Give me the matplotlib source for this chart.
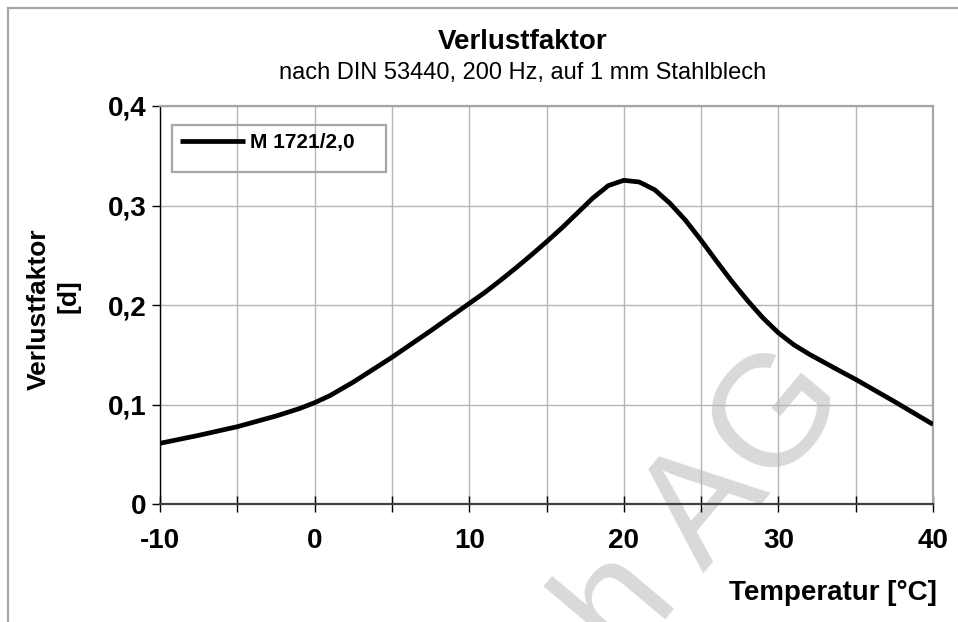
import matplotlib
matplotlib.use("Agg")
import matplotlib.pyplot as plt
from matplotlib.lines import Line2D
from matplotlib.patches import Rectangle
from matplotlib.ticker import MultipleLocator, FuncFormatter

# ---- data ----
temperature = [-10, -7.5, -5, -2.5, -1, 0, 1, 2.5, 5, 7.5, 9, 10, 11, 12, 13, 14,
               15, 16, 17, 18, 19, 20, 21, 22, 23, 24, 25, 26, 27, 28, 29, 30,
               31, 32, 33, 34, 35, 37.5, 40]
loss_factor = [0.061, 0.069, 0.0777, 0.0884, 0.0958, 0.1018, 0.1090, 0.1225, 0.1474,
               0.1740, 0.1905, 0.2015, 0.2125, 0.2245, 0.2370, 0.2500,
               0.2635, 0.2775, 0.2925, 0.3075, 0.3200, 0.3253, 0.3236, 0.3158,
               0.3020, 0.2850, 0.2650, 0.2440, 0.2235, 0.2045, 0.1870, 0.1720,
               0.1600, 0.1505, 0.1420, 0.1335, 0.1252, 0.1030, 0.0800]
series_name = "M 1721/2,0"
title = "Verlustfaktor"
subtitle = "nach DIN 53440, 200 Hz, auf 1 mm Stahlblech"
x_label = "Temperatur [°C]"
y_label_main = "Verlustfaktor"
y_label_unit = "[d]"
x_tick_values = [-10, 0, 10, 20, 30, 40]
y_tick_values = [0, 0.1, 0.2, 0.3, 0.4]
y_tick_labels = ["0", "0,1", "0,2", "0,3", "0,4"]
watermark = "h AG"

plt.rcParams["font.family"] = ["Liberation Sans", "DejaVu Sans"]

W, H = 958, 622
fig = plt.figure(figsize=(W / 100, H / 100), dpi=100)

def fx(px):
    return px / W

def fy(py):
    return 1 - py / H

# watermark behind everything (cut by the canvas edge as in the reference)
fig.text(fx(707), fy(507), watermark, rotation=50, rotation_mode="anchor",
         fontsize=114, color="#d9d9d9", ha="center", va="center", zorder=-5)

# figure border (left and top visible)
fig.add_artist(Line2D([fx(7.5), fx(7.5)], [fy(7.5), -0.1], color="#a6a6a6", lw=1.6))
fig.add_artist(Line2D([fx(7.5), 1.1], [fy(7.5), fy(7.5)], color="#a6a6a6", lw=1.6))

ax = fig.add_axes([fx(160), fy(504), (933 - 160) / W, (504 - 106) / H])
ax.set_facecolor("none")

ax.plot(temperature, loss_factor, color="black", lw=3.4, solid_joinstyle="round",
        solid_capstyle="butt", zorder=5, label=series_name)

ax.set_xlim(-10, 40)
ax.set_ylim(0, 0.4)

ax.xaxis.set_major_locator(MultipleLocator(5))
ax.xaxis.set_major_formatter(FuncFormatter(
    lambda v, p: f"{int(round(v))}" if int(round(v)) in x_tick_values else ""))
ax.set_yticks(y_tick_values)
ax.set_yticklabels(y_tick_labels)

ax.grid(True, color="#b5b5b5", lw=1.0, zorder=0)
ax.set_axisbelow(True)

for side in ("top", "right"):
    ax.spines[side].set_color("#a6a6a6")
    ax.spines[side].set_linewidth(1.6)
ax.spines["left"].set_color("black")
ax.spines["left"].set_linewidth(1.0)
ax.spines["bottom"].set_color("#404040")
ax.spines["bottom"].set_linewidth(1.6)

ax.tick_params(axis="x", direction="inout", length=11, width=1.0, color="black",
               pad=12, labelsize=20)
ax.tick_params(axis="y", direction="out", length=6, width=1.0, color="black",
               pad=3.5, labelsize=20)
for lab in ax.get_xticklabels() + ax.get_yticklabels():
    lab.set_fontweight("bold")

# legend
leg = ax.legend(loc="upper left", bbox_to_anchor=(fx(174), fy(127)),
                bbox_transform=fig.transFigure, frameon=False,
                prop={"weight": "bold", "size": 15}, handlelength=3.1,
                handletextpad=0.25, borderpad=0.3, borderaxespad=0)
fig.add_artist(Rectangle((fx(172), fy(172)), (386 - 172) / W, (172 - 125) / H,
                         transform=fig.transFigure, fill=False,
                         edgecolor="#a6a6a6", lw=1.6, zorder=6))

# titles and labels
fig.text(fx(523), fy(42), title, fontsize=20, fontweight="bold", ha="center", va="center")
fig.text(fx(523), fy(73), subtitle, fontsize=17, ha="center", va="center")
fig.text(fx(39), fy(309), y_label_main, fontsize=19, fontweight="bold", rotation=90,
         ha="center", va="center")
fig.text(fx(69), fy(296), y_label_unit, fontsize=19, fontweight="bold", rotation=90,
         ha="center", va="center")
fig.text(fx(937), fy(593), x_label, fontsize=20, fontweight="bold", ha="right", va="center")

fig.savefig("out.png", dpi=100)
